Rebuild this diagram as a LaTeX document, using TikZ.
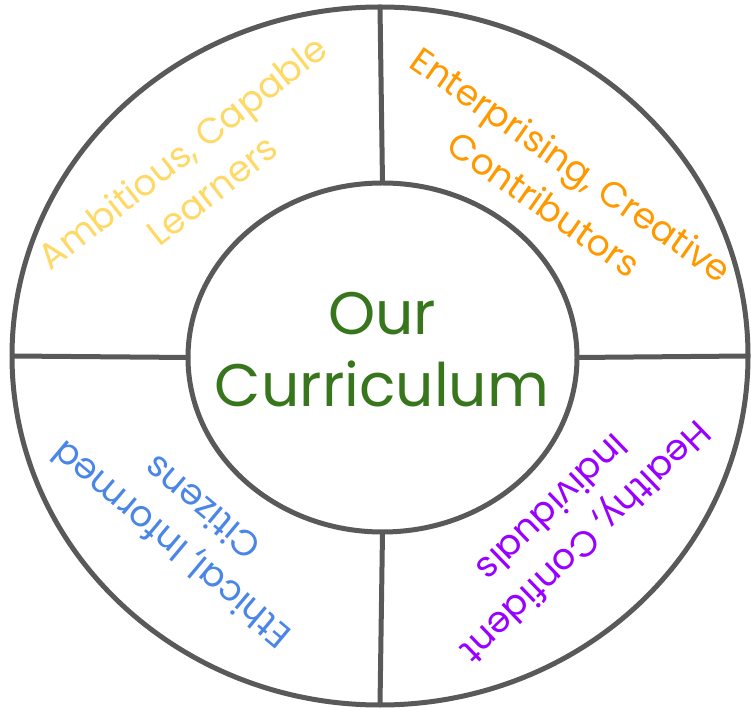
\documentclass[tikz,border=0pt]{standalone}
\usepackage{fontspec}
\setmainfont{Poppins}
\usetikzlibrary{shapes.geometric}
\definecolor{ringgray}{HTML}{595959}
\definecolor{ambyellow}{HTML}{FFD966}
\definecolor{entorange}{HTML}{FF9900}
\definecolor{healthpurple}{HTML}{9900FF}
\definecolor{ethicblue}{HTML}{4A86E8}
\definecolor{currgreen}{HTML}{38761D}
\begin{document}
\begin{tikzpicture}[x=1pt,y=1pt,
  ring/.style={draw=ringgray, line width=5pt, ellipse, inner sep=0pt, outer sep=0pt},
  divider/.style={draw=ringgray, line width=5pt},
  part/.style={align=center, inner sep=0pt, font=\fontsize{36}{48}\selectfont}]
\useasboundingbox (0,0) rectangle (751,709);
\node [ring, minimum width=736pt, minimum height=698pt] (outer) at (380,353) {};
\node [ring, minimum width=389pt, minimum height=349pt] (inner) at (382.5,351.5) {};
\draw [divider] (inner.north) -- (outer.north);
\draw [divider] (inner.east) -- (outer.east);
\draw [divider] (inner.south) -- (outer.south);
\draw [divider] (inner.west) -- (outer.west);
\node [align=center, text=currgreen, font=\fontsize{60}{72}\selectfont] (title) at (382,359) {Our\\Curriculum};
\node [part, text=ambyellow, rotate=38] (learners) at (197,538) {Ambitious, Capable\\Learners};
\node [part, text=entorange, rotate=-35] (contributors) at (558,525) {Enterprising, Creative\\Contributors};
\node [part, text=healthpurple, rotate=-136] (individuals) at (570,183) {Healthy, Confident\\Individuals};
\node [part, text=ethicblue, rotate=140] (citizens) at (186,182) {Ethical, Informed\\Citizens};
\end{tikzpicture}
\end{document}
